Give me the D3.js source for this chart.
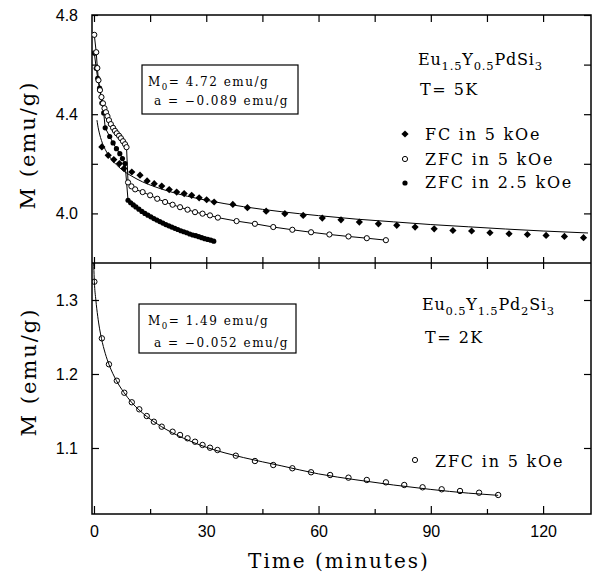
<!DOCTYPE html>
<html>
<head>
<meta charset="utf-8">
<script src="https://cdn.jsdelivr.net/npm/d3@7"></script>
<style>
  body { margin: 0; background: #fff; }
  .tick text { font-family: "Liberation Sans", Arial, sans-serif; font-size: 16px; fill: #000; }
  .tick line { stroke: #000; stroke-width: 1.2; }
  .serif { font-family: "DejaVu Serif", serif; fill: #000; }
</style>
</head>
<body>
<div id="chart"></div>
<script>
// ---- data ----
// top panel: Eu1.5Y0.5PdSi3, T = 5 K
const fcTime = [2.1, 3.8, 5.3, 6.8, 8.0, 10.1, 12.3, 14.2, 16.1, 18.1, 20.1, 22.1, 24.1, 26.1, 28.1, 30.1, 32.1,
  37.1, 41.0, 46.0, 51.0, 55.9, 61.0, 66.0, 70.9, 76.0, 80.9, 85.8, 90.9, 95.9, 100.9, 105.8, 110.9, 115.8, 120.8, 125.7, 130.8];
const fcM = [4.268, 4.234, 4.217, 4.201, 4.181, 4.167, 4.154, 4.131, 4.120, 4.110, 4.096, 4.086, 4.080, 4.073, 4.063, 4.055, 4.046,
  4.036, 4.023, 4.009, 3.999, 3.992, 3.981, 3.974, 3.965, 3.958, 3.952, 3.945, 3.938, 3.931, 3.929, 3.922, 3.918, 3.915, 3.911, 3.907, 3.902];

const zfc5Time = [0.08, 0.6, 0.9, 1.2, 1.6, 2.0, 2.4, 2.8, 3.2, 3.6, 4.0, 4.5, 5.1, 5.6, 6.1, 6.7, 7.2, 7.75, 8.3, 8.7,
  9.1, 10.0, 11.0, 13.0, 15.0, 16.9, 19.0, 21.0, 23.0, 25.0, 27.0, 29.0, 31.0, 33.1, 38.1, 43.0, 47.9, 53.0, 58.0, 62.9, 68.0, 72.9, 78.0];
const zfc5M = [4.720, 4.650, 4.586, 4.537, 4.497, 4.469, 4.444, 4.424, 4.408, 4.392, 4.376, 4.360, 4.345, 4.333, 4.323, 4.313, 4.303, 4.291, 4.279, 4.267,
  4.125, 4.109, 4.097, 4.086, 4.073, 4.059, 4.046, 4.035, 4.025, 4.015, 4.005, 3.999, 3.992, 3.983, 3.969, 3.958, 3.945, 3.934, 3.924, 3.915, 3.907, 3.900, 3.892];

const zfc25Time = [0.1, 0.6, 1.0, 1.5, 2.1, 2.6, 3.0, 4.2, 5.1, 6.0, 6.9, 7.6, 8.3,
  9.1, 9.8, 10.5, 11.2, 12.0, 12.8, 13.6, 14.4, 15.2, 16.0, 16.8, 17.6, 18.4, 19.2, 20.0, 20.8, 21.6, 22.4, 23.2, 24.0,
  24.8, 25.6, 26.4, 27.2, 28.0, 28.8, 29.6, 30.4, 31.2, 32.0];
const zfc25M = [4.646, 4.585, 4.545, 4.505, 4.445, 4.405, 4.345, 4.310, 4.284, 4.261, 4.241, 4.221, 4.201,
  4.053, 4.043, 4.034, 4.026, 4.017, 4.008, 4.000, 3.993, 3.986, 3.979, 3.973, 3.967, 3.961, 3.955, 3.950, 3.945, 3.940, 3.935, 3.930, 3.926,
  3.922, 3.917, 3.913, 3.910, 3.906, 3.902, 3.898, 3.895, 3.892, 3.888];

const fitTopTime = [0.8, 1, 1.5, 2, 3, 4, 5, 6, 8, 10, 13, 16, 20, 25, 30, 40, 50, 60, 70, 80, 90, 100, 110, 120, 132];
const fitTopM = [4.376, 4.356, 4.320, 4.294, 4.258, 4.232, 4.212, 4.196, 4.170, 4.151, 4.127, 4.109, 4.089, 4.069, 4.053,
  4.027, 4.007, 3.991, 3.977, 3.966, 3.955, 3.946, 3.937, 3.929, 3.921];

// bottom panel: Eu0.5Y1.5Pd2Si3, T = 2 K
const botTime = [0.1, 2.1, 4.0, 6.1, 8.1, 10.1, 12.1, 14.1, 16.0, 18.1, 21.0, 23.0, 25.0, 27.0, 29.0, 31.0, 33.0,
  37.9, 43.0, 47.9, 53.0, 58.0, 63.1, 68.0, 72.9, 78.0, 82.9, 87.8, 92.9, 97.8, 102.9, 108.0];
const botM = [1.3247, 1.2482, 1.2131, 1.1909, 1.1747, 1.1618, 1.1523, 1.1432, 1.1355, 1.1288, 1.1220, 1.1176, 1.1131, 1.1085, 1.1041, 1.1004, 1.0973,
  1.0896, 1.0824, 1.0770, 1.0726, 1.0672, 1.0635, 1.0599, 1.0568, 1.0536, 1.0500, 1.0469, 1.0442, 1.0419, 1.0396, 1.0365];

const fitBotTime = [-0.2, 0.1, 0.5, 1.0, 1.5, 2, 3, 4, 6, 8, 10, 14, 18, 24, 30, 40, 50, 60, 70, 80, 90, 100, 108];
const fitBotM = [1.370, 1.325, 1.300, 1.278, 1.261, 1.248, 1.228, 1.213, 1.191, 1.175, 1.162, 1.143, 1.129, 1.113, 1.101,
  1.087, 1.076, 1.065, 1.057, 1.050, 1.044, 1.039, 1.036];

const xTicks = [0, 15, 30, 45, 60, 75, 90, 105, 120];
const xLabels = [0, 30, 60, 90, 120];
const topYTicks = [4.0, 4.2, 4.4, 4.6, 4.8];
const topYLabels = [4.0, 4.4, 4.8];
const botYTicks = [1.1, 1.2, 1.3];

// ---- layout ----
const width = 596, height = 580;
const pLeft = 92, pRight = 591, pTop = 15, pMid = 263, pBottom = 514;

const svg = d3.select("#chart").append("svg")
  .attr("width", width)
  .attr("height", height);

const x = d3.scaleLinear().domain([-0.53, 132.8]).range([pLeft, pRight]);
const yTop = d3.scaleLinear().domain([3.8, 4.8]).range([pMid, pTop]);
const yBot = d3.scaleLinear().domain([1.0108, 1.35]).range([pBottom, pMid]);

const zip = (ts, ms) => ts.map((t, i) => ({ t: t, m: ms[i] }));

// clip paths
const defs = svg.append("defs");
defs.append("clipPath").attr("id", "clipTop").append("rect")
  .attr("x", pLeft).attr("y", pTop).attr("width", pRight - pLeft).attr("height", pMid - pTop);
defs.append("clipPath").attr("id", "clipBot").append("rect")
  .attr("x", pLeft).attr("y", pMid).attr("width", pRight - pLeft).attr("height", pBottom - pMid);

// ---- axes ----
// drop the domain line and any empty tick labels
function tidy(g) {
  g.select(".domain").remove();
  g.selectAll(".tick text").filter(function() { return this.textContent === ""; }).remove();
}

// top panel
svg.append("g").attr("transform", `translate(0,${pTop})`)
  .call(d3.axisTop(x).tickValues(xTicks).tickSize(-7).tickFormat("")).call(tidy);
svg.append("g").attr("transform", `translate(0,${pMid})`)
  .call(d3.axisBottom(x).tickValues(xTicks).tickSize(-6).tickFormat("")).call(tidy);
svg.append("g").attr("transform", `translate(${pLeft},0)`)
  .call(d3.axisLeft(yTop).tickValues(topYTicks).tickSize(-6).tickPadding(14)
    .tickFormat(d => topYLabels.some(v => Math.abs(v - d) < 1e-9) ? d3.format(".1f")(d) : ""))
  .call(tidy);
svg.append("g").attr("transform", `translate(${pRight},0)`)
  .call(d3.axisRight(yTop).tickValues(topYTicks).tickSize(-7).tickFormat("")).call(tidy);

// bottom panel
svg.append("g").attr("transform", `translate(0,${pMid})`)
  .call(d3.axisTop(x).tickValues(xTicks).tickSize(-6).tickFormat("")).call(tidy);
svg.append("g").attr("transform", `translate(0,${pBottom})`)
  .call(d3.axisBottom(x).tickValues(xTicks.filter(t => !xLabels.includes(t))).tickSize(-5).tickFormat("")).call(tidy);
svg.append("g").attr("transform", `translate(0,${pBottom})`)
  .call(d3.axisBottom(x).tickValues(xLabels).tickSize(-8).tickPadding(12).tickFormat(d3.format("d"))).call(tidy);
svg.append("g").attr("transform", `translate(${pLeft},0)`)
  .call(d3.axisLeft(yBot).tickValues(botYTicks).tickSize(-7).tickPadding(14).tickFormat(d3.format(".1f")))
  .call(tidy);
svg.append("g").attr("transform", `translate(${pRight},0)`)
  .call(d3.axisRight(yBot).tickValues(botYTicks).tickSize(-7).tickFormat("")).call(tidy);

// frames
svg.append("rect").attr("x", pLeft).attr("y", pTop).attr("width", pRight - pLeft).attr("height", pBottom - pTop)
  .attr("fill", "none").attr("stroke", "#000").attr("stroke-width", 1.5);
svg.append("line").attr("x1", pLeft).attr("x2", pRight).attr("y1", pMid).attr("y2", pMid)
  .attr("stroke", "#000").attr("stroke-width", 1.5);

// ---- marks ----
const lineTopFit = d3.line().x(d => x(d.t)).y(d => yTop(d.m)).curve(d3.curveMonotoneX);
const lineTop = d3.line().x(d => x(d.t)).y(d => yTop(d.m));
const lineBot = d3.line().x(d => x(d.t)).y(d => yBot(d.m)).curve(d3.curveMonotoneX);

const gTop = svg.append("g").attr("clip-path", "url(#clipTop)");
const gBot = svg.append("g").attr("clip-path", "url(#clipBot)");

function path(g, data, gen) {
  g.append("path").datum(data)
    .attr("fill", "none").attr("stroke", "#000").attr("stroke-width", 1)
    .attr("d", gen);
}

path(gTop, zip(fitTopTime, fitTopM), lineTopFit);
path(gTop, zip(zfc5Time, zfc5M), lineTop);
path(gTop, zip(zfc25Time, zfc25M), lineTop);
path(gBot, zip(fitBotTime, fitBotM), lineBot);

const diamond = "M0,-3.6L3.6,0L0,3.6L-3.6,0Z";

gTop.selectAll(".fc").data(zip(fcTime, fcM)).join("path")
  .attr("class", "fc")
  .attr("d", diamond)
  .attr("transform", d => `translate(${x(d.t)},${yTop(d.m)})`)
  .attr("fill", "#000");

gTop.selectAll(".zfc25").data(zip(zfc25Time, zfc25M)).join("circle")
  .attr("class", "zfc25")
  .attr("cx", d => x(d.t)).attr("cy", d => yTop(d.m)).attr("r", 2.6)
  .attr("fill", "#000");

gTop.selectAll(".zfc5").data(zip(zfc5Time, zfc5M)).join("circle")
  .attr("class", "zfc5")
  .attr("cx", d => x(d.t)).attr("cy", d => yTop(d.m)).attr("r", 2.6)
  .attr("fill", "#fff").attr("stroke", "#000").attr("stroke-width", 1);

gBot.selectAll(".bot").data(zip(botTime, botM)).join("circle")
  .attr("class", "bot")
  .attr("cx", d => x(d.t)).attr("cy", d => yBot(d.m)).attr("r", 2.7)
  .attr("fill", "none").attr("stroke", "#000").attr("stroke-width", 1);

// ---- text ----
// parts: plain strings, or [string] for a subscript
function label(xp, yp, size, ls, parts) {
  const t = svg.append("text").attr("class", "serif")
    .attr("x", xp).attr("y", yp)
    .style("font-size", size + "px").style("letter-spacing", ls + "px");
  const shift = size * 0.32;
  let down = false;
  parts.forEach(p => {
    const sub = Array.isArray(p);
    const s = t.append("tspan").text(sub ? p[0] : p);
    if (sub) {
      s.attr("dy", shift).style("font-size", (size * 0.72) + "px");
      down = true;
    } else if (down) {
      s.attr("dy", -shift);
      down = false;
    }
  });
  return t;
}

// axis titles
svg.append("text").attr("class", "serif")
  .attr("transform", "translate(35,145) rotate(-90)")
  .attr("text-anchor", "middle")
  .style("font-size", "21px").style("letter-spacing", "2px")
  .text("M (emu/g)");
svg.append("text").attr("class", "serif")
  .attr("transform", "translate(36,372) rotate(-90)")
  .attr("text-anchor", "middle")
  .style("font-size", "21px").style("letter-spacing", "2px")
  .text("M (emu/g)");
svg.append("text").attr("class", "serif")
  .attr("x", 339).attr("y", 568).attr("text-anchor", "middle")
  .style("font-size", "20px").style("letter-spacing", "2px")
  .text("Time (minutes)");

// fit boxes
svg.append("rect").attr("x", 142).attr("y", 65).attr("width", 156).attr("height", 49)
  .attr("fill", "#fff").attr("stroke", "#000").attr("stroke-width", 1.2);
label(148, 86, 12, 1.5, ["M", ["0"], "= 4.72 emu/g"]);
label(154, 105, 12, 1.5, ["a = \u22120.089 emu/g"]);

svg.append("rect").attr("x", 139).attr("y", 304).attr("width", 157).attr("height", 49)
  .attr("fill", "#fff").attr("stroke", "#000").attr("stroke-width", 1.2);
label(148, 325, 12, 1.5, ["M", ["0"], "= 1.49 emu/g"]);
label(154, 347, 12, 1.5, ["a = \u22120.052 emu/g"]);

// sample labels
label(418, 65, 16, 0.8, ["Eu", ["1.5"], "Y", ["0.5"], "PdSi", ["3"]]);
label(420, 95, 16, 1.5, ["T=  5K"]);
label(422, 310, 16, 0.8, ["Eu", ["0.5"], "Y", ["1.5"], "Pd", ["2"], "Si", ["3"]]);
label(425, 343, 16, 1.5, ["T=  2K"]);

// legends
svg.append("path").attr("d", diamond).attr("transform", "translate(405,134)").attr("fill", "#000");
label(425, 140, 16, 1.8, ["FC in 5 kOe"]);
svg.append("circle").attr("cx", 405).attr("cy", 159).attr("r", 2.6)
  .attr("fill", "#fff").attr("stroke", "#000");
label(425, 165, 16, 1.8, ["ZFC in 5 kOe"]);
svg.append("circle").attr("cx", 405).attr("cy", 183).attr("r", 2.6).attr("fill", "#000");
label(425, 188, 16, 1.8, ["ZFC in 2.5 kOe"]);

svg.append("circle").attr("cx", 415).attr("cy", 460).attr("r", 2.6)
  .attr("fill", "#fff").attr("stroke", "#000");
label(435, 467, 16, 1.8, ["ZFC in 5 kOe"]);
</script>
</body>
</html>
